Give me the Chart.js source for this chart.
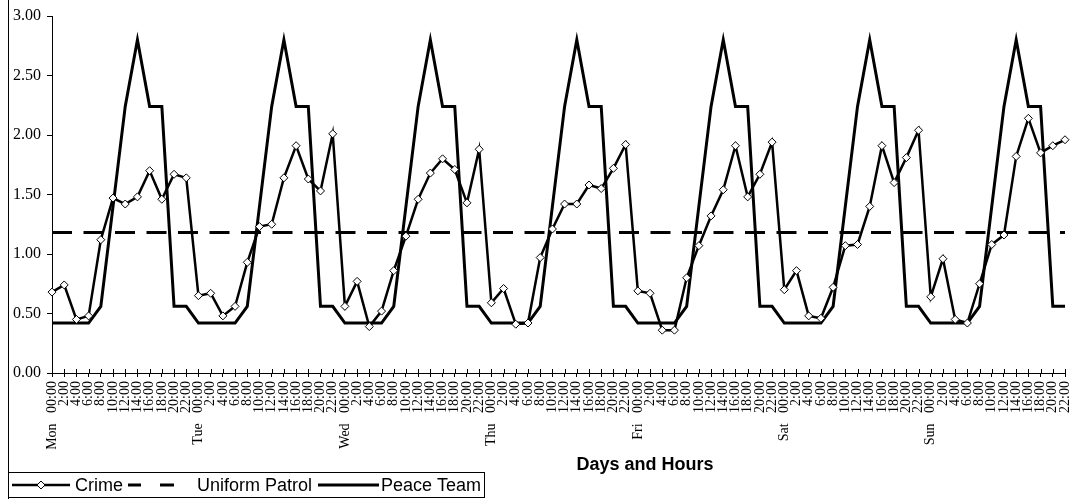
<!DOCTYPE html>
<html>
<head>
<meta charset="utf-8">
<script src="https://cdn.jsdelivr.net/npm/chart.js@4/dist/chart.umd.min.js"></script>
<style>
  body { margin: 0; background: #fff; }
  canvas { display: block; }
</style>
</head>
<body>
<canvas id="chart" width="1070" height="499"></canvas>
<script>
const days = ['Mon', 'Tue', 'Wed', 'Thu', 'Fri', 'Sat', 'Sun'];
const hours = ['00:00', '2:00', '4:00', '6:00', '8:00', '10:00', '12:00', '14:00', '16:00', '18:00', '20:00', '22:00'];

const crime = [
  0.68, 0.74, 0.45, 0.48, 1.12, 1.47, 1.42, 1.48, 1.70, 1.46, 1.67, 1.64,
  0.65, 0.67, 0.48, 0.56, 0.93, 1.23, 1.25, 1.64, 1.91, 1.63, 1.53, 2.01,
  0.56, 0.77, 0.39, 0.52, 0.86, 1.15, 1.46, 1.68, 1.80, 1.71, 1.43, 1.88,
  0.59, 0.71, 0.41, 0.42, 0.97, 1.21, 1.42, 1.42, 1.58, 1.55, 1.72, 1.92,
  0.69, 0.67, 0.36, 0.36, 0.80, 1.07, 1.32, 1.54, 1.91, 1.48, 1.67, 1.94,
  0.70, 0.86, 0.48, 0.46, 0.72, 1.07, 1.08, 1.40, 1.91, 1.60, 1.81, 2.04,
  0.64, 0.96, 0.45, 0.42, 0.75, 1.08, 1.16, 1.82, 2.14, 1.85, 1.91, 1.96
];

const uniformPatrol = [
  1.18, 1.18, 1.18, 1.18, 1.18, 1.18, 1.18, 1.18, 1.18, 1.18, 1.18, 1.18,
  1.18, 1.18, 1.18, 1.18, 1.18, 1.18, 1.18, 1.18, 1.18, 1.18, 1.18, 1.18,
  1.18, 1.18, 1.18, 1.18, 1.18, 1.18, 1.18, 1.18, 1.18, 1.18, 1.18, 1.18,
  1.18, 1.18, 1.18, 1.18, 1.18, 1.18, 1.18, 1.18, 1.18, 1.18, 1.18, 1.18,
  1.18, 1.18, 1.18, 1.18, 1.18, 1.18, 1.18, 1.18, 1.18, 1.18, 1.18, 1.18,
  1.18, 1.18, 1.18, 1.18, 1.18, 1.18, 1.18, 1.18, 1.18, 1.18, 1.18, 1.18,
  1.18, 1.18, 1.18, 1.18, 1.18, 1.18, 1.18, 1.18, 1.18, 1.18, 1.18, 1.18
];

const peaceTeam = [
  0.42, 0.42, 0.42, 0.42, 0.56, 1.40, 2.24, 2.80, 2.24, 2.24, 0.56, 0.56,
  0.42, 0.42, 0.42, 0.42, 0.56, 1.40, 2.24, 2.80, 2.24, 2.24, 0.56, 0.56,
  0.42, 0.42, 0.42, 0.42, 0.56, 1.40, 2.24, 2.80, 2.24, 2.24, 0.56, 0.56,
  0.42, 0.42, 0.42, 0.42, 0.56, 1.40, 2.24, 2.80, 2.24, 2.24, 0.56, 0.56,
  0.42, 0.42, 0.42, 0.42, 0.56, 1.40, 2.24, 2.80, 2.24, 2.24, 0.56, 0.56,
  0.42, 0.42, 0.42, 0.42, 0.56, 1.40, 2.24, 2.80, 2.24, 2.24, 0.56, 0.56,
  0.42, 0.42, 0.42, 0.42, 0.56, 1.40, 2.24, 2.80, 2.24, 2.24, 0.56, 0.56
];

// first slot of each day carries the day name, like the Excel original
const labels = days.flatMap(d => hours.map((h, j) => j === 0 ? `${d}   ${h}` : h));

const SERIF = 'Liberation Serif';
const SANS = 'Liberation Sans';

// x axis ticks cross the axis, legend and frame drawn by hand
const extras = {
  id: 'extras',
  afterDraw(chart) {
    const { ctx, scales: { x }, chartArea } = chart;
    ctx.save();
    ctx.strokeStyle = '#000';
    ctx.lineWidth = 1;
    ctx.beginPath();
    x.ticks.forEach((t, i) => {
      const px = Math.round(x.getPixelForTick(i)) + 0.5;
      ctx.moveTo(px, chartArea.bottom - 4);
      ctx.lineTo(px, chartArea.bottom);
    });
    ctx.stroke();

    // outer frame and legend box
    ctx.beginPath();
    ctx.moveTo(8.5, 0);
    ctx.lineTo(8.5, 499);
    ctx.stroke();
    ctx.strokeRect(8.5, 472.5, 476, 25);

    const ly = 485;
    ctx.lineWidth = 2.5;
    ctx.beginPath();
    ctx.moveTo(12, ly);
    ctx.lineTo(70, ly);
    ctx.stroke();
    ctx.lineWidth = 1;
    ctx.fillStyle = '#fff';
    ctx.beginPath();
    ctx.moveTo(41, ly - 4);
    ctx.lineTo(45, ly);
    ctx.lineTo(41, ly + 4);
    ctx.lineTo(37, ly);
    ctx.closePath();
    ctx.fill();
    ctx.stroke();

    ctx.lineWidth = 3;
    ctx.beginPath();
    ctx.moveTo(128, ly);
    ctx.lineTo(141, ly);
    ctx.moveTo(160, ly);
    ctx.lineTo(174, ly);
    ctx.moveTo(318, ly);
    ctx.lineTo(379, ly);
    ctx.stroke();

    ctx.fillStyle = '#000';
    ctx.font = `18px "${SANS}"`;
    ctx.textBaseline = 'middle';
    ctx.textAlign = 'left';
    ctx.fillText('Crime', 75, ly + 1);
    ctx.fillText('Uniform Patrol', 197, ly + 1);
    ctx.fillText('Peace Team', 381, ly + 1);

    ctx.font = `bold 18px "${SANS}"`;
    ctx.textAlign = 'center';
    ctx.fillText('Days and Hours', 645, 465);
    ctx.restore();
  }
};

new Chart(document.getElementById('chart'), {
  type: 'line',
  data: {
    labels,
    datasets: [
      {
        label: 'Crime',
        data: crime,
        borderColor: '#000',
        borderWidth: 2.5,
        pointStyle: 'rectRot',
        pointRadius: 4,
        pointBorderWidth: 1,
        pointBackgroundColor: '#fff',
        pointBorderColor: '#000',
        tension: 0
      },
      {
        label: 'Uniform Patrol',
        data: uniformPatrol,
        borderColor: '#000',
        borderWidth: 3,
        borderDash: [20, 11.5],
        pointRadius: 0,
        tension: 0
      },
      {
        label: 'Peace Team',
        data: peaceTeam,
        borderColor: '#000',
        borderWidth: 3,
        pointRadius: 0,
        tension: 0
      }
    ]
  },
  options: {
    responsive: false,
    animation: false,
    layout: { padding: { left: 0, right: 5, top: 16, bottom: 0 } },
    plugins: {
      legend: { display: false },
      tooltip: { enabled: false }
    },
    scales: {
      x: {
        offset: false,
        grid: {
          offset: false,
          drawOnChartArea: false,
          drawTicks: true,
          tickLength: 4,
          tickColor: '#000'
        },
        border: { color: '#000', width: 1 },
        ticks: {
          autoSkip: false,
          maxRotation: 90,
          minRotation: 90,
          padding: 4,
          color: '#000',
          font: { family: SERIF, size: 14 }
        },
        afterFit(s) {
          s.height = 126;
          s.paddingLeft = 0;
          s.paddingRight = 0;
        }
      },
      y: {
        min: 0,
        max: 3,
        grid: {
          drawOnChartArea: false,
          drawTicks: true,
          tickLength: 5,
          tickColor: '#000'
        },
        border: { color: '#000', width: 1 },
        ticks: {
          stepSize: 0.5,
          padding: 6,
          color: '#000',
          font: { family: SERIF, size: 16 },
          callback: v => v.toFixed(2)
        },
        afterFit(s) {
          s.width = 52;
        }
      }
    }
  },
  plugins: [extras]
});
</script>
</body>
</html>
